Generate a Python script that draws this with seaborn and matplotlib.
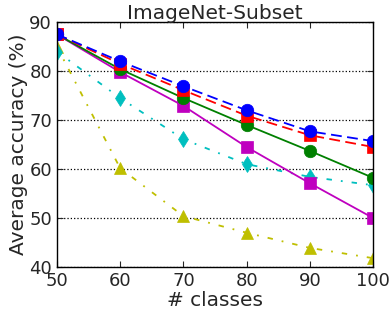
import seaborn as sns
import matplotlib.pyplot as plt
import pandas as pd

classes = [50, 60, 70, 80, 90, 100]
blue_acc = [87.5, 82.0, 76.9, 72.0, 67.7, 65.7]
red_acc = [87.5, 81.5, 76.1, 70.9, 66.9, 64.5]
green_acc = [87.5, 80.4, 74.5, 69.0, 63.7, 58.2]
magenta_acc = [87.5, 79.8, 72.9, 64.5, 57.1, 50.0]
cyan_acc = [84.0, 74.5, 66.1, 61.0, 58.4, 56.7]
yellow_acc = [85.0, 60.2, 50.4, 47.0, 43.9, 41.8]

series = [
    ("blue", blue_acc, "b", "o", (0, (6, 3))),
    ("red", red_acc, "r", "s", (0, (6, 3))),
    ("green", green_acc, "g", "o", "-"),
    ("magenta", magenta_acc, "m", "s", "-"),
    ("cyan", cyan_acc, "c", "d", (0, (3, 5, 1, 5))),
    ("yellow", yellow_acc, "y", "^", (0, (3, 5, 1, 5))),
]

sns.set_style("ticks")
plt.rcParams["font.family"] = ["DejaVu Sans"]

fig = plt.figure(figsize=(3.92, 3.16), dpi=100)
ax = fig.add_axes([0.145, 0.155, 0.807, 0.775])

# draw bottom-most first so blue ends on top
for name, vals, color, marker, ls in reversed(series):
    df = pd.DataFrame({"classes": classes, "acc": vals})
    sns.lineplot(data=df, x="classes", y="acc", ax=ax, color=color,
                 marker=marker, linestyle=ls, linewidth=1.3,
                 markersize=9 if marker != "d" else 8,
                 markeredgecolor=color, markeredgewidth=0.5)

ax.set_xlim(50, 100)
ax.set_ylim(40, 90)
ax.set_xticks(classes)
ax.set_yticks([40, 50, 60, 70, 80, 90])
ax.yaxis.grid(True, linestyle=":", color="black", linewidth=0.9)
ax.tick_params(direction="in", top=True, right=True, labelsize=13, length=4, width=0.8)
for sp in ax.spines.values():
    sp.set_visible(True)
    sp.set_linewidth(1.0)
    sp.set_color("black")
ax.set_xlabel("# classes", fontsize=14.5)
ax.set_ylabel("Average accuracy (%)", fontsize=14.5)
ax.set_title("ImageNet-Subset", fontsize=14.5, pad=2)
ax.xaxis.labelpad = 1
ax.yaxis.labelpad = 1

fig.savefig("out.png", dpi=100)
